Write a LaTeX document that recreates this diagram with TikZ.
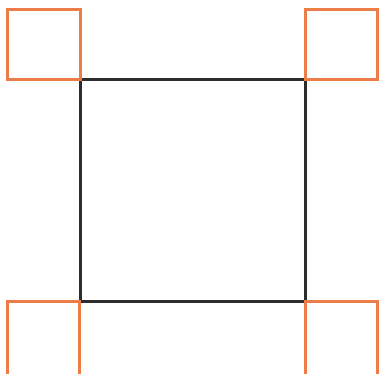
\documentclass[tikz,border=0pt]{standalone}
\usepackage{xcolor}
\usepackage{tikz}
\usetikzlibrary{positioning}

\definecolor{cornerorange}{RGB}{236,124,72}
\definecolor{framegray}{RGB}{45,45,48}

\begin{document}
\begin{tikzpicture}[
    x=0.02cm, y=-0.02cm,
    mainsq/.style={draw=framegray, line width=3*0.02cm},
    cornersq/.style={draw=cornerorange, line width=3*0.02cm}
]
\useasboundingbox (0,0) rectangle (380,374);

% Main square
\draw[mainsq] (81,80) rectangle (306,302);

% Corner squares
\draw[cornersq] (8,10) rectangle (81,80);
\draw[cornersq] (306,10) rectangle (378,80);
\draw[cornersq] (8,302) rectangle (80,376);
\draw[cornersq] (306,302) rectangle (378,376);

\end{tikzpicture}
\end{document}
